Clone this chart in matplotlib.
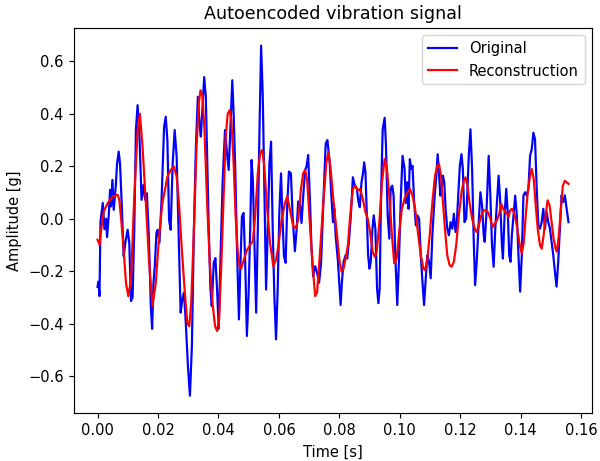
import numpy as np
from matplotlib import pyplot as plt

# values (time in ms, amplitude in g)
orig_t_ms = [
    0.0, 0.3, 0.65, 0.98, 1.74, 2.29, 2.84, 3.16, 3.72, 4.15, 4.48, 4.92, 5.36, 6.02, 6.46, 7.00,
    7.44, 7.99, 8.65, 9.19, 9.96, 10.51, 11.06, 11.60, 12.16, 12.70, 13.25, 13.80, 14.57, 15.22,
    15.77, 16.32, 16.98, 17.63, 18.07, 18.51, 18.95, 19.49, 19.93, 20.48, 21.14, 22.02, 22.56,
    23.11, 23.66, 24.20, 24.86, 25.52, 26.17, 26.94, 27.50, 28.04, 28.59, 29.14, 29.90, 30.57,
    31.22, 31.88, 32.54, 33.19, 33.74, 34.18, 34.72, 35.28, 35.82, 36.26, 36.81, 37.36, 37.79,
    38.45, 39.00, 39.55, 40.09, 40.64, 41.41, 42.17, 42.83, 43.38, 43.93, 44.58, 45.03, 45.57,
    46.12, 46.78, 47.22, 47.77, 48.31, 48.86, 49.41, 49.95, 50.51, 50.95, 51.38, 51.93, 52.48,
    53.02, 53.58, 54.12, 54.67, 55.22, 55.76, 56.31, 56.86, 57.41, 57.96, 58.50, 59.05, 59.60,
    60.14, 60.70, 61.14, 61.68, 62.23, 62.78, 63.32, 63.98, 64.54, 65.29, 65.85, 66.39, 66.94,
    67.49, 68.04, 68.69, 69.13, 69.68, 70.23, 70.77, 71.33, 71.99, 72.64, 73.30, 73.96, 74.61,
    75.48, 76.04, 76.80, 77.35, 77.90, 78.34, 78.77, 79.54, 80.09, 80.42, 80.86, 81.40, 82.06,
    82.61, 83.16, 83.82, 84.47, 85.13, 85.79, 86.34, 86.77, 87.32, 87.87, 88.20, 88.64, 89.08,
    89.51, 89.95, 90.39, 90.94, 91.38, 91.92, 92.47, 92.91, 93.35, 93.79, 94.34, 94.99, 95.43,
    95.98, 96.53, 96.97, 97.51, 97.95, 98.50, 99.16, 99.70, 100.36, 100.91, 101.57, 102.00,
    102.44, 102.88, 103.32, 103.76, 104.20, 104.75, 105.29, 105.84, 106.39, 106.94, 107.49,
    108.03, 108.58, 109.13, 109.68, 110.22, 110.77, 111.54, 112.09, 112.53, 112.96, 113.40,
    113.84, 114.28, 114.72, 115.15, 115.70, 116.25, 116.80, 117.35, 117.89, 118.44, 118.88,
    119.32, 119.87, 120.41, 120.85, 121.40, 121.95, 122.39, 122.82, 123.37, 123.92, 124.47,
    124.91, 125.45, 126.11, 126.66, 127.21, 127.75, 128.08, 128.63, 129.40, 129.95, 130.50,
    131.04, 131.59, 132.14, 132.69, 133.23, 133.78, 134.11, 134.66, 135.21, 135.76, 136.19,
    136.63, 137.07, 137.62, 138.17, 138.71, 139.26, 139.81, 140.36, 140.90, 141.45, 142.00,
    142.55, 143.10, 143.65, 144.19, 144.74, 145.29, 145.84, 146.38, 146.93, 147.48, 148.03,
    148.58, 149.12, 149.67, 150.22, 150.77, 151.31, 151.86, 152.41, 152.96, 153.51, 154.05,
    154.60, 155.80,
]
orig_amp = [
    -0.26, -0.24, -0.295, -0.01, 0.06, -0.04, 0.0, -0.07, 0.015, 0.11, 0.047, 0.148, 0.034, 0.123,
    0.21, 0.256, 0.21, 0.06, -0.143, -0.092, -0.042, -0.092, -0.314, -0.30, -0.04, 0.338, 0.433,
    0.338, 0.072, 0.129, 0.072, 0.097, -0.067, -0.333, -0.42, -0.244, -0.18, -0.054, -0.042,
    -0.092, 0.06, 0.35, 0.389, 0.30, -0.004, -0.042, 0.21, 0.338, 0.237, -0.105, -0.358, -0.308,
    -0.282, -0.384, -0.56, -0.675, -0.485, -0.042, 0.275, 0.465, 0.363, 0.313, 0.427, 0.54, 0.465,
    0.237, -0.042, -0.27, -0.333, -0.168, -0.15, -0.27, -0.42, -0.168, 0.148, 0.338, 0.25, 0.186,
    0.338, 0.528, 0.40, 0.186, -0.105, -0.384, -0.196, 0.009, 0.022, -0.168, -0.447, -0.295,
    -0.042, 0.224, 0.148, -0.105, -0.358, -0.042, 0.338, 0.66, 0.465, 0.085, -0.27, -0.042, 0.21,
    0.294, -0.042, -0.295, -0.46, -0.27, 0.022, 0.173, 0.022, -0.143, -0.168, 0.06, 0.18, 0.173,
    0.009, -0.124, -0.042, 0.066, 0.06, -0.016, 0.085, 0.186, 0.199, 0.243, 0.085, -0.105, -0.219,
    -0.181, -0.206, -0.244, -0.168, 0.034, 0.287, 0.30, 0.215, 0.088, -0.013, 0.038, -0.063,
    -0.164, -0.265, -0.329, -0.24, -0.164, -0.139, -0.152, -0.088, 0.013, 0.158, 0.126, 0.114,
    0.063, 0.044, 0.139, 0.177, 0.215, 0.177, 0.013, -0.139, -0.19, -0.164, -0.038, 0.013, -0.038,
    -0.265, -0.322, -0.265, 0.088, 0.341, 0.385, 0.278, 0.013, -0.076, 0.114, 0.126, 0.088,
    -0.139, -0.329, -0.164, 0.088, 0.24, 0.19, 0.06, 0.139, 0.038, 0.227, 0.19, 0.202, 0.063,
    -0.025, 0.013, 0.0, -0.139, -0.24, -0.329, -0.227, -0.139, -0.164, -0.227, -0.063, 0.088,
    0.164, 0.246, 0.177, 0.088, 0.114, 0.164, 0.139, 0.038, -0.038, -0.063, -0.013, -0.038, 0.019,
    -0.051, -0.013, 0.088, 0.202, 0.246, 0.19, -0.013, 0.0, 0.114, 0.24, 0.341, 0.19, -0.088,
    -0.253, -0.164, -0.013, 0.101, 0.051, -0.063, -0.088, 0.013, 0.24, 0.089, -0.101, -0.183,
    -0.038, 0.063, 0.164, 0.063, -0.101, -0.152, 0.013, 0.114, 0.013, -0.139, -0.164, -0.063,
    0.013, 0.088, 0.013, -0.139, -0.278, -0.139, 0.088, 0.101, 0.088, 0.114, 0.24, 0.265, 0.328,
    0.303, 0.114, -0.025, -0.038, -0.013, 0.038, -0.038, 0.025, -0.013, -0.038, -0.089, -0.139,
    -0.202, -0.259, -0.164, -0.038, 0.089, 0.063, 0.089, -0.013,
]

recon_t_ms = [
    0.0, 0.65, 1.19, 2.07, 3.39, 5.03, 6.67, 7.22, 8.32, 9.41, 10.18, 11.06, 12.16, 13.25, 14.02,
    14.89, 15.98, 17.08, 18.18, 19.28, 20.37, 21.46, 23.11, 24.20, 25.30, 26.17, 26.94, 27.82,
    28.81, 29.68, 30.34, 31.00, 31.88, 32.76, 33.52, 34.07, 34.72, 35.38, 36.26, 37.13, 38.02,
    38.89, 39.55, 40.21, 40.97, 41.74, 42.40, 43.06, 43.71, 44.26, 45.03, 45.68, 46.34, 47.00,
    47.50, 48.30, 49.41, 50.51, 51.38, 52.14, 53.02, 53.79, 54.45, 55.10, 55.98, 57.07, 58.17,
    59.05, 59.81, 60.91, 62.01, 62.78, 63.65, 64.75, 65.63, 66.39, 67.27, 68.04, 68.69, 69.35,
    70.23, 71.10, 71.99, 72.64, 73.51, 74.61, 75.71, 76.36, 77.02, 77.90, 78.99, 80.09, 80.75,
    81.40, 82.06, 82.83, 83.60, 84.47, 85.35, 86.12, 86.88, 87.76, 88.64, 89.40, 90.17, 91.05,
    91.71, 92.36, 93.24, 94.12, 94.99, 95.65, 96.53, 97.40, 98.17, 98.94, 99.81, 100.69, 101.57,
    102.55, 103.32, 104.20, 105.07, 105.84, 106.94, 107.81, 108.36, 109.13, 109.90, 110.77,
    111.65, 112.42, 112.96, 113.62, 114.28, 114.93, 115.70, 116.47, 117.13, 117.89, 118.66,
    119.54, 120.41, 121.18, 121.73, 122.39, 123.04, 123.92, 124.80, 125.45, 126.11, 126.99,
    127.75, 128.41, 129.18, 129.95, 130.71, 131.37, 132.14, 132.91, 133.56, 134.22, 134.88,
    135.54, 135.97, 136.52, 137.07, 137.73, 138.39, 139.04, 139.70, 140.36, 141.02, 141.67,
    142.33, 143.10, 143.65, 144.30, 144.96, 145.62, 146.38, 146.93, 147.59, 148.25, 148.90,
    149.56, 150.22, 150.88, 151.54, 151.97, 152.63, 153.29, 153.94, 154.60, 155.80,
]
recon_amp = [
    -0.08, -0.10, -0.042, 0.028, 0.06, 0.085, 0.091, 0.072, -0.067, -0.244, -0.295, -0.232, 0.085,
    0.338, 0.40, 0.275, 0.06, -0.168, -0.333, -0.244, -0.067, 0.06, 0.16, 0.186, 0.199, 0.16,
    0.06, -0.105, -0.27, -0.396, -0.41, -0.32, -0.042, 0.275, 0.44, 0.49, 0.465, 0.338, 0.06,
    -0.168, -0.32, -0.41, -0.428, -0.384, -0.168, 0.085, 0.313, 0.40, 0.414, 0.376, 0.211, 0.009,
    -0.12, -0.18, -0.19, -0.16, -0.12, -0.10, -0.085, 0.009, 0.173, 0.249, 0.262, 0.21, 0.06,
    -0.092, -0.181, -0.156, -0.105, -0.004, 0.06, 0.085, 0.034, -0.029, -0.035, -0.004, 0.11,
    0.173, 0.186, 0.148, -0.016, -0.168, -0.295, -0.282, -0.143, 0.047, 0.215, 0.253, 0.202,
    0.088, -0.038, -0.164, -0.202, -0.19, -0.152, -0.101, 0.013, 0.114, 0.126, 0.107, 0.114,
    0.076, 0.025, 0.0, -0.051, -0.126, -0.145, -0.126, -0.013, 0.139, 0.228, 0.202, 0.088, -0.063,
    -0.17, -0.152, -0.051, 0.038, 0.076, 0.101, 0.114, 0.088, 0.038, -0.038, -0.139, -0.19,
    -0.196, -0.152, -0.063, 0.063, 0.164, 0.202, 0.209, 0.164, 0.063, -0.038, -0.139, -0.177,
    -0.183, -0.164, -0.101, 0.013, 0.101, 0.145, 0.158, 0.126, 0.063, 0.0, -0.038, -0.051,
    -0.025, 0.013, 0.032, 0.032, 0.025, 0.0, -0.032, -0.019, -0.006, 0.019, 0.057, 0.038, 0.025,
    0.019, 0.006, 0.032, 0.038, 0.025, -0.006, -0.051, -0.101, -0.133, -0.089, 0.013, 0.101,
    0.164, 0.19, 0.152, 0.051, -0.038, -0.101, -0.114, -0.063, 0.013, 0.07, 0.051, -0.013, -0.076,
    -0.114, -0.126, -0.063, 0.038, 0.126, 0.145, 0.133,
]

t_orig = np.array(orig_t_ms) / 1000.0
t_recon = np.array(recon_t_ms) / 1000.0

fig = plt.figure(figsize=(600 / 105, 461 / 105), dpi=105)
plt.subplots_adjust(left=0.1233, right=0.9867, top=0.939, bottom=0.1035)

plt.plot(t_orig, orig_amp, color="blue", linewidth=1.5, label="Original")
plt.plot(t_recon, recon_amp, color="red", linewidth=1.5, label="Reconstruction")
plt.title("Autoencoded vibration signal")
plt.xlabel("Time [s]")
plt.ylabel("Amplitude [g]")
plt.xticks([0.0, 0.02, 0.04, 0.06, 0.08, 0.10, 0.12, 0.14, 0.16])
plt.legend(loc="upper right")

plt.savefig("out.png", dpi=105)
